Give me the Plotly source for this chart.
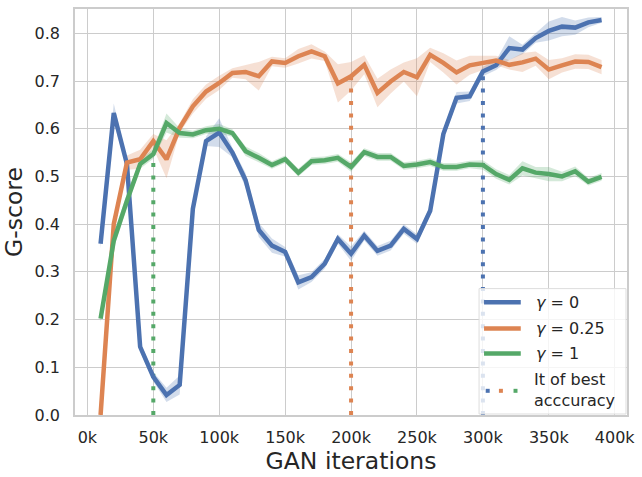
import plotly.graph_objects as go

iters_k = [10, 20, 30, 40, 50, 60, 70, 80, 90, 100, 110, 120, 130, 140, 150, 160, 170, 180, 190, 200,
           210, 220, 230, 240, 250, 260, 270, 280, 290, 300, 310, 320, 330, 340, 350, 360, 370, 380, 390]

g0_mean = [0.359, 0.633, 0.526, 0.143, 0.080, 0.042, 0.063, 0.432, 0.574, 0.592, 0.550, 0.492, 0.388, 0.355, 0.342,
           0.278, 0.289, 0.317, 0.369, 0.338, 0.376, 0.344, 0.355, 0.390, 0.369, 0.428, 0.589, 0.665, 0.668, 0.720,
           0.733, 0.769, 0.766, 0.790, 0.805, 0.814, 0.812, 0.823, 0.828]
g0_err = [0.010, 0.020, 0.010, 0.010, 0.010, 0.015, 0.020, 0.010, 0.010, 0.030, 0.010, 0.015, 0.015, 0.015, 0.010,
          0.015, 0.010, 0.010, 0.010, 0.015, 0.010, 0.010, 0.010, 0.010, 0.010, 0.010, 0.010, 0.012, 0.010, 0.010,
          0.010, 0.025, 0.010, 0.010, 0.020, 0.020, 0.015, 0.010, 0.006]

g025_mean = [0.000, 0.400, 0.529, 0.536, 0.574, 0.536, 0.602, 0.647, 0.678, 0.696, 0.717, 0.719, 0.710, 0.741, 0.738,
             0.752, 0.762, 0.752, 0.695, 0.710, 0.734, 0.675, 0.699, 0.719, 0.708, 0.755, 0.738, 0.718, 0.733, 0.738,
             0.743, 0.734, 0.739, 0.747, 0.724, 0.733, 0.741, 0.740, 0.729]
g025_err = [0.000, 0.010, 0.015, 0.020, 0.015, 0.040, 0.010, 0.015, 0.015, 0.015, 0.010, 0.015, 0.030, 0.010, 0.010,
            0.015, 0.015, 0.010, 0.040, 0.030, 0.020, 0.030, 0.025, 0.020, 0.040, 0.015, 0.020, 0.025, 0.020, 0.015,
            0.010, 0.010, 0.020, 0.015, 0.020, 0.015, 0.015, 0.015, 0.015]

g1_mean = [0.202, 0.365, 0.449, 0.526, 0.547, 0.612, 0.591, 0.588, 0.597, 0.600, 0.591, 0.553, 0.539, 0.524, 0.536,
           0.508, 0.532, 0.534, 0.539, 0.520, 0.551, 0.541, 0.541, 0.522, 0.525, 0.530, 0.520, 0.520, 0.525, 0.524,
           0.505, 0.493, 0.517, 0.508, 0.505, 0.500, 0.511, 0.489, 0.499]
g1_err = [0.008, 0.015, 0.015, 0.010, 0.010, 0.020, 0.010, 0.008, 0.008, 0.010, 0.008, 0.010, 0.010, 0.008, 0.008,
          0.008, 0.008, 0.008, 0.008, 0.010, 0.008, 0.008, 0.008, 0.008, 0.008, 0.008, 0.008, 0.008, 0.008, 0.010,
          0.010, 0.010, 0.015, 0.012, 0.015, 0.010, 0.010, 0.008, 0.008]

series_names = ["γ = 0", "γ = 0.25", "γ = 1"]
best_iter_k = [300, 200, 50]

x_ticks = [0, 50, 100, 150, 200, 250, 300, 350, 400]
y_ticks = [0.0, 0.1, 0.2, 0.3, 0.4, 0.5, 0.6, 0.7, 0.8]

colors = ["#4c72b0", "#dd8452", "#55a868"]
band_colors = ["rgba(76,114,176,0.25)", "rgba(221,132,82,0.25)", "rgba(85,168,104,0.25)"]
means = [g0_mean, g025_mean, g1_mean]
errs = [g0_err, g025_err, g1_err]

fig = go.Figure()

# best-accuracy dotted markers (drawn under series)
for i in [2, 1, 0]:
    idx = iters_k.index(best_iter_k[i])
    fig.add_trace(go.Scatter(x=[best_iter_k[i], best_iter_k[i]], y=[0, means[i][idx]],
                             mode="lines", line=dict(color=colors[i], width=4, dash="4px,8.4px"),
                             showlegend=False, hoverinfo="skip"))

for i in range(3):
    up = [m + e for m, e in zip(means[i], errs[i])]
    lo = [m - e for m, e in zip(means[i], errs[i])]
    fig.add_trace(go.Scatter(x=iters_k + iters_k[::-1], y=up + lo[::-1], fill="toself",
                             fillcolor=band_colors[i], line=dict(width=0), mode="lines",
                             showlegend=False, hoverinfo="skip"))
for i in range(3):
    fig.add_trace(go.Scatter(x=iters_k, y=means[i], mode="lines",
                             line=dict(color=colors[i], width=4.5), name=series_names[i],
                             showlegend=False))

font_col = "#262626"
fig.update_layout(
    width=642, height=477,
    margin=dict(l=75, r=11, t=7, b=62),
    paper_bgcolor="white", plot_bgcolor="white",
    font=dict(family="DejaVu Sans", color=font_col, size=16),
    showlegend=False,
)
fig.update_xaxes(range=[-9.4, 409.3], tickvals=x_ticks, ticktext=[f"{v}k" for v in x_ticks],
                 showgrid=True, gridcolor="#cccccc", gridwidth=1.3, zeroline=False,
                 ticks="outside", ticklen=7, tickcolor="rgba(0,0,0,0)",
                 tickfont=dict(size=16, color=font_col),
                 title=dict(text="GAN iterations", font=dict(size=23.5, color=font_col), standoff=4),
                 showline=True, linecolor="#cccccc", linewidth=1.5, mirror=True)
fig.update_yaxes(range=[0, 0.851], tickvals=y_ticks, ticktext=[f"{v:.1f}" for v in y_ticks],
                 showgrid=True, gridcolor="#cccccc", gridwidth=1.3, zeroline=False,
                 ticks="outside", ticklen=10, tickcolor="rgba(0,0,0,0)",
                 tickfont=dict(size=16, color=font_col),
                 title=dict(text="G-score", font=dict(size=23.5, color=font_col), standoff=6),
                 showline=True, linecolor="#cccccc", linewidth=1.5, mirror=True)

# legend drawn manually (paper coordinates)
def px2paper(px, py):
    return (px - 75) / (631 - 75), (415 - py) / (415 - 7)

x0, y0 = px2paper(482, 288)
x1, y1 = px2paper(630, 414)
fig.add_shape(type="rect", xref="paper", yref="paper", x0=x0, y0=y1, x1=x1, y1=y0,
              fillcolor="rgba(255,255,255,0.8)", line=dict(color="#dddddd", width=1))
legend_rows = [301.7, 328, 353.3]
for i in range(3):
    lx0, ly = px2paper(487, legend_rows[i])
    lx1, _ = px2paper(524, legend_rows[i])
    fig.add_shape(type="line", xref="paper", yref="paper", x0=lx0, x1=lx1, y0=ly, y1=ly,
                  line=dict(color=colors[i], width=4.5))
    tx, _ = px2paper(537, legend_rows[i])
    label = series_names[i].replace("γ", "<i>γ</i>")
    fig.add_annotation(xref="paper", yref="paper", x=tx, y=ly, text=label, showarrow=False,
                       xanchor="left", yanchor="middle", font=dict(size=16, color=font_col))
dot_x = [490.7, 504, 518.7]
for i in range(3):
    dx0, dy = px2paper(dot_x[i] - 2, 390.7)
    dx1, _ = px2paper(dot_x[i] + 2, 390.7)
    fig.add_shape(type="line", xref="paper", yref="paper", x0=dx0, x1=dx1, y0=dy, y1=dy,
                  line=dict(color=colors[i], width=4))
tx, ty = px2paper(535, 389.5)
fig.add_annotation(xref="paper", yref="paper", x=tx, y=ty, text="It of best<br>acccuracy",
                   showarrow=False, xanchor="left", yanchor="middle", align="left",
                   font=dict(size=16, color=font_col))

fig.write_html("out.html")
